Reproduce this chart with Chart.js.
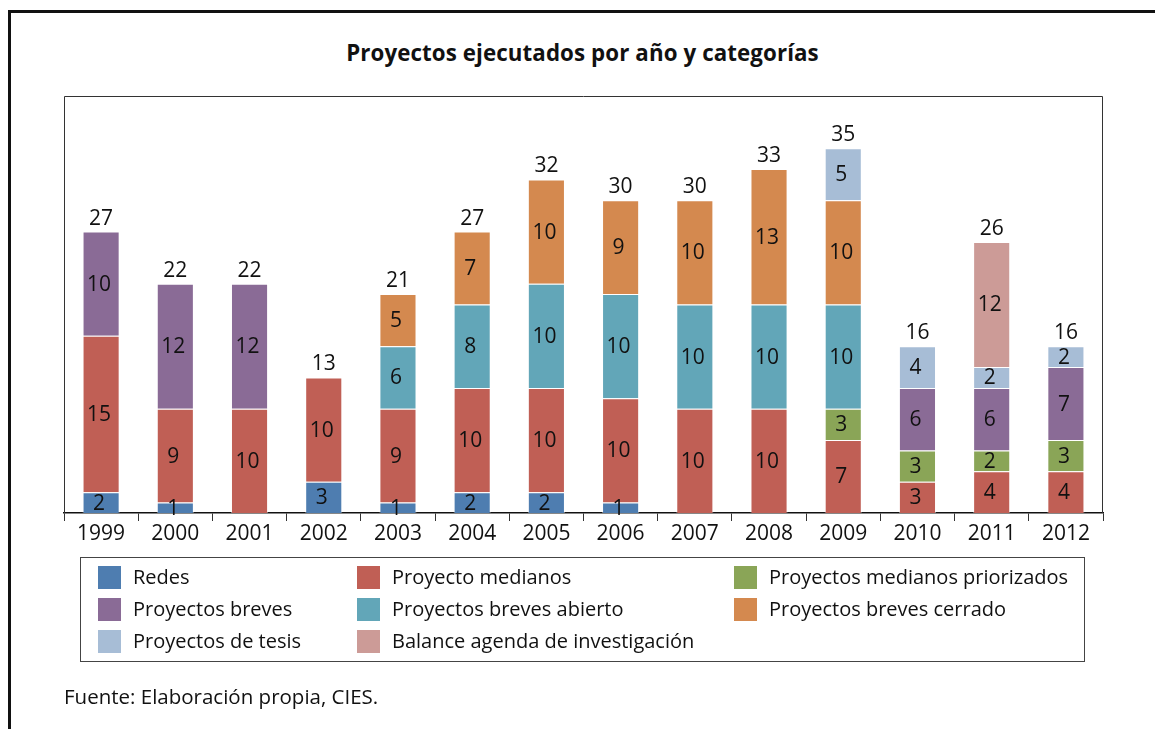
<!DOCTYPE html>
<html>
<head>
<meta charset="utf-8">
<script src="https://cdn.jsdelivr.net/npm/chart.js@4/dist/chart.umd.min.js"></script>
<style>
  html, body { margin: 0; padding: 0; background: #fff; }
  body { width: 1155px; height: 729px; position: relative; overflow: hidden; font-family: "Open Sans", sans-serif; color: #111; }
  #frame { position: absolute; left: 8px; top: 10px; width: 1147px; height: 719px; border-top: 3px solid #111; border-left: 3px solid #111; box-sizing: border-box; }
  #title { position: absolute; left: 0; width: 1165px; top: 37px; text-align: center; font-weight: bold; font-size: 22.3px; letter-spacing: 0.1px; }
  #wrap { position: absolute; left: 0; top: 0; width: 1155px; height: 729px; }
  #legend { position: absolute; left: 80px; top: 557px; width: 1005px; height: 105px; border: 1.5px solid #444; box-sizing: border-box; }
  .li { position: absolute; font-size: 20px; line-height: 24px; white-space: nowrap; }
  .sw { position: absolute; width: 23px; height: 23px; left: -35px; top: 1px; }
  #foot { position: absolute; left: 64px; top: 682px; font-size: 20.5px; }
</style>
</head>
<body>
<div id="frame"></div>
<div id="title">Proyectos ejecutados por año y categorías</div>
<div id="wrap"><canvas id="c" width="1155" height="729"></canvas></div>
<div id="legend"></div>
<div id="foot">Fuente: Elaboración propia, CIES.</div>
<script>
const years = ["1999","2000","2001","2002","2003","2004","2005","2006","2007","2008","2009","2010","2011","2012"];
const redes       = [2, 1, 0, 3, 1, 2, 2, 1, 0, 0, 0, 0, 0, 0];
const medianos    = [15, 9, 10, 10, 9, 10, 10, 10, 10, 10, 7, 3, 4, 4];
const priorizados = [0, 0, 0, 0, 0, 0, 0, 0, 0, 0, 3, 3, 2, 3];
const breves      = [10, 12, 12, 0, 0, 0, 0, 0, 0, 0, 0, 6, 6, 7];
const abierto     = [0, 0, 0, 0, 6, 8, 10, 10, 10, 10, 10, 0, 0, 0];
const cerrado     = [0, 0, 0, 0, 5, 7, 10, 9, 10, 13, 10, 0, 0, 0];
const tesis       = [0, 0, 0, 0, 0, 0, 0, 0, 0, 0, 5, 4, 2, 2];
const balance     = [0, 0, 0, 0, 0, 0, 0, 0, 0, 0, 0, 0, 12, 0];
const totals      = [27, 22, 22, 13, 21, 27, 32, 30, 30, 33, 35, 16, 26, 16];
const yMax = 40;

const series = [
  { label: "Redes", data: redes, color: "#4e7db0" },
  { label: "Proyecto medianos", data: medianos, color: "#c05f55" },
  { label: "Proyectos medianos priorizados", data: priorizados, color: "#8aa557" },
  { label: "Proyectos breves", data: breves, color: "#8a6b96" },
  { label: "Proyectos breves abierto", data: abierto, color: "#62a6b8" },
  { label: "Proyectos breves cerrado", data: cerrado, color: "#d4894f" },
  { label: "Proyectos de tesis", data: tesis, color: "#a7bdd6" },
  { label: "Balance agenda de investigación", data: balance, color: "#cc9b97" }
];

// HTML legend (3 columns)
const colX = [52, 311, 688];
const rowY = [7, 39, 71];
const lg = document.getElementById('legend');
series.forEach((s, i) => {
  const d = document.createElement('div');
  d.className = 'li';
  d.style.left = colX[i % 3] + 'px';
  d.style.top = rowY[Math.floor(i / 3)] + 'px';
  d.innerHTML = '<span class="sw" style="background:' + s.color + '"></span>' + s.label;
  lg.appendChild(d);
});

const FONT = '"Open Sans", sans-serif';

const boxPlugin = {
  id: 'box',
  afterDraw(chart) {
    const a = chart.chartArea, ctx = chart.ctx;
    ctx.save();
    ctx.strokeStyle = '#333';
    ctx.lineWidth = 1;
    ctx.beginPath();
    ctx.moveTo(a.left + 0.5, a.bottom);
    ctx.lineTo(a.left + 0.5, a.top + 0.5);
    ctx.lineTo(a.right - 0.5, a.top + 0.5);
    ctx.lineTo(a.right - 0.5, a.bottom);
    ctx.stroke();
    ctx.restore();
  }
};

const labelPlugin = {
  id: 'labels',
  afterDatasetsDraw(chart) {
    const ctx = chart.ctx;
    ctx.save();
    ctx.fillStyle = '#111';
    ctx.textAlign = 'center';
    ctx.textBaseline = 'middle';
    ctx.font = '21px ' + FONT;
    chart.data.datasets.forEach((ds, di) => {
      const meta = chart.getDatasetMeta(di);
      meta.data.forEach((el, i) => {
        const v = ds.data[i];
        if (!v) return;
        const yc = (el.y + el.base) / 2;
        ctx.fillText(String(v), el.x - 2, yc + 1);
      });
    });
    const ys = chart.scales.y;
    const meta0 = chart.getDatasetMeta(0);
    ctx.textBaseline = 'alphabetic';
    totals.forEach((t, i) => {
      const x = meta0.data[i].x;
      ctx.fillText(String(t), x, ys.getPixelForValue(t) - 7);
    });
    ctx.restore();
  }
};

new Chart(document.getElementById('c'), {
  type: 'bar',
  data: {
    labels: years,
    datasets: series.map(s => ({
      label: s.label,
      data: s.data,
      backgroundColor: s.color,
      borderColor: 'rgba(255,255,255,0.45)',
      borderWidth: 1,
      categoryPercentage: 1,
      barPercentage: 0.5
    }))
  },
  options: {
    responsive: false,
    animation: false,
    layout: { padding: { left: 64, right: 52, top: 96, bottom: 176 } },
    plugins: { legend: { display: false }, tooltip: { enabled: false }, title: { display: false } },
    scales: {
      x: {
        stacked: true,
        grid: { display: true, offset: true, drawOnChartArea: false, tickLength: 8, color: '#333', lineWidth: 1 },
        border: { display: true, color: '#111', width: 1.5 },
        ticks: { color: '#111', font: { family: FONT, size: 21 }, padding: 0, maxRotation: 0 },
        afterFit(scale) { scale.height = 40; }
      },
      y: {
        stacked: true,
        display: false,
        min: 0, max: yMax,
        afterFit(scale) { scale.width = 0; }
      }
    }
  },
  plugins: [boxPlugin, labelPlugin]
});
</script>
</body>
</html>
